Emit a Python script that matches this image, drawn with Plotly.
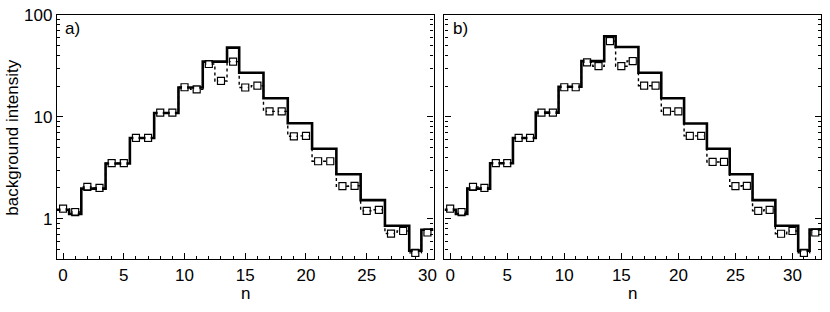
import plotly.graph_objects as go

# ---------------- data ----------------
n_a = list(range(0, 31))
model_a = [1.22, 1.11, 1.97, 1.97, 3.48, 3.48, 6.19, 6.19, 10.9, 10.9,
           19.4, 19.4, 34.8, 34.8, 47.8, 27.1, 27.1, 15.2, 15.2, 8.63,
           8.63, 4.85, 4.85, 2.73, 2.73, 1.52, 1.52, 0.85, 0.85, 0.485, 0.778]
meas_a = [1.25, 1.16, 2.05, 2.0, 3.5, 3.5, 6.2, 6.2, 11.0, 11.0,
          19.5, 18.6, 33.0, 22.5, 34.8, 19.4, 20.2, 11.3, 11.3, 6.43,
          6.5, 3.66, 3.66, 2.08, 2.1, 1.19, 1.22, 0.713, 0.755, 0.46, 0.73]

n_b = list(range(0, 33))
model_b = [1.22, 1.11, 1.97, 1.97, 3.5, 3.5, 6.2, 6.2, 11.0, 11.0,
           19.7, 19.7, 35.2, 35.2, 61.9, 48.5, 48.5, 27.1, 27.1, 15.2,
           15.2, 8.6, 8.6, 4.85, 4.85, 2.73, 2.73, 1.52, 1.52, 0.85,
           0.85, 0.485, 0.78]
meas_b = [1.25, 1.16, 2.05, 2.0, 3.5, 3.5, 6.2, 6.2, 11.0, 11.0,
          19.5, 19.5, 34.3, 31.4, 55.4, 31.4, 35.3, 20.2, 20.2, 11.3,
          11.3, 6.5, 6.5, 3.6, 3.6, 2.08, 2.1, 1.19, 1.22, 0.71,
          0.755, 0.46, 0.73]

panel_labels = ["a)", "b)"]
y_tickvals = [1, 10, 100]
y_ticktext = ["1", "10", "100"]

FONT = "Liberation Sans, Arial, Helvetica, sans-serif"
FS = 17

fig = go.Figure()


def add_panel(n, model, meas, xa, ya):
    # extend the step line to the bin edges
    xs = [n[0] - 0.5] + n + [n[-1] + 0.5]
    ys = [model[0]] + model + [model[-1]]
    fig.add_trace(go.Scatter(x=n, y=meas, mode="lines", line_shape="hvh",
                             line=dict(color="black", width=1.4, dash="dot"),
                             xaxis=xa, yaxis=ya, showlegend=False, hoverinfo="skip"))
    fig.add_trace(go.Scatter(x=xs, y=ys, mode="lines", line_shape="hvh",
                             line=dict(color="black", width=2.6),
                             xaxis=xa, yaxis=ya, showlegend=False, hoverinfo="skip"))
    fig.add_trace(go.Scatter(x=n, y=meas, mode="markers",
                             marker=dict(symbol="square-open", size=7, color="black",
                                         line=dict(width=1.2, color="black")),
                             xaxis=xa, yaxis=ya, showlegend=False))
    fig.add_trace(go.Scatter(x=n, y=meas, mode="markers",
                             marker=dict(symbol="square", size=5, color="white"),
                             xaxis=xa, yaxis=ya, showlegend=False))


add_panel(n_a, model_a, meas_a, "x", "y")
add_panel(n_b, model_b, meas_b, "x2", "y2")

minor_y = [v * 10 ** k for k in (-1, 0, 1) for v in range(2, 10) if v * 10 ** k > 0.41]

W = 830
L, R, T, B = 57, 6, 10, 53
pw = W - L - R
ph = 312 - T - B

xcommon = dict(showgrid=False, zeroline=False, showline=True, linecolor="black",
               linewidth=1.3, mirror=True, ticks="inside", ticklen=6, tickwidth=1.2,
               tickcolor="black", tick0=0, dtick=5,
               minor=dict(ticks="inside", ticklen=3, tickwidth=1, tickcolor="black", dtick=1, tick0=0),
               tickfont=dict(family=FONT, size=FS, color="black"))
ycommon = dict(type="log", range=[-0.397, 2], showgrid=False, zeroline=False, showline=True,
               linecolor="black", linewidth=1.3, mirror="ticks", ticks="inside", ticklen=6,
               tickwidth=1.2, tickcolor="black", tickvals=y_tickvals, ticktext=y_ticktext,
               minor=dict(ticks="inside", ticklen=3, tickwidth=1, tickcolor="black", tickvals=minor_y),
               tickfont=dict(family=FONT, size=FS, color="black"))

fig.update_layout(
    width=W, height=312,
    margin=dict(l=L, r=R, t=T, b=B),
    paper_bgcolor="white", plot_bgcolor="white",
    xaxis=dict(domain=[0, 378 / pw], range=[-0.5, 30.5], anchor="y", **xcommon),
    yaxis=dict(domain=[0, 1], anchor="x", showticklabels=True, **ycommon),
    xaxis2=dict(domain=[389 / pw, 1], range=[-0.5, 32.5], anchor="y2", **xcommon),
    yaxis2=dict(domain=[0, 1], anchor="x2", showticklabels=False, **ycommon),
    annotations=[
        dict(text=panel_labels[0], xref="paper", yref="paper", x=(63 - L) / pw, y=1 - (24 - T) / ph,
             xanchor="left", yanchor="middle", showarrow=False,
             font=dict(family=FONT, size=FS, color="black")),
        dict(text=panel_labels[1], xref="paper", yref="paper", x=(453 - L) / pw, y=1 - (24 - T) / ph,
             xanchor="left", yanchor="middle", showarrow=False,
             font=dict(family=FONT, size=FS, color="black")),
        dict(text="background intensity", xref="paper", yref="paper", x=(12 - L) / pw,
             y=1 - (135 - T) / ph, textangle=-90, xanchor="center", yanchor="middle",
             showarrow=False, font=dict(family=FONT, size=FS, color="black")),
        dict(text="n", xref="paper", yref="paper", x=(246 - L) / pw, y=1 - (294 - T) / ph,
             xanchor="center", yanchor="middle", showarrow=False,
             font=dict(family=FONT, size=FS, color="black")),
        dict(text="n", xref="paper", yref="paper", x=(635 - L) / pw, y=1 - (294 - T) / ph,
             xanchor="center", yanchor="middle", showarrow=False,
             font=dict(family=FONT, size=FS, color="black")),
    ],
)

fig.write_html("out.html", config={"displayModeBar": False},
               post_script="document.body.style.margin='0';document.body.style.overflow='hidden';")
